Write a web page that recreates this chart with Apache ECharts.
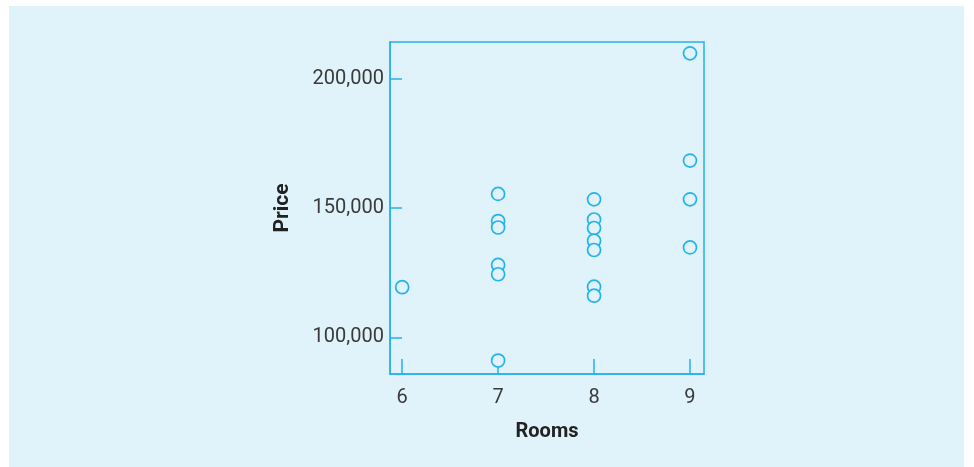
<!DOCTYPE html>
<html>
<head>
<meta charset="utf-8">
<script src="https://cdn.jsdelivr.net/npm/echarts@6/dist/echarts.min.js"></script>
<style>
html,body{margin:0;padding:0;background:#ffffff;}
#chart{width:974px;height:467px;}
</style>
</head>
<body>
<div id="chart"></div>
<script>
const rooms = [6, 7, 7, 7, 7, 7, 7, 8, 8, 8, 8, 8, 8, 8, 9, 9, 9, 9];
const prices = [119400, 155500, 145000, 142500, 128000, 124400, 91000,
                153400, 145600, 142300, 137400, 133800, 119600, 116100,
                209900, 168400, 153400, 134800];
const xTicks = [6, 7, 8, 9];
const yTicks = [100000, 150000, 200000];
const xName = 'Rooms';
const yName = 'Price';

const points = rooms.map((r, i) => [r, prices[i]]);
const blue = '#22b3ec';
const fontFam = 'Roboto, "DejaVu Sans", sans-serif';

const chart = echarts.init(document.getElementById('chart'), null, {renderer: 'canvas'});
chart.setOption({
  backgroundColor: '#ffffff',
  animation: false,
  graphic: [{
    type: 'rect', z: -10, silent: true,
    shape: {x: 9, y: 6, width: 955, height: 461},
    style: {fill: '#e0f2fa'}
  }],
  grid: {
    left: 390, right: 270, top: 42, bottom: 93,
    show: true, borderColor: blue, borderWidth: 1.5, backgroundColor: 'transparent'
  },
  xAxis: {
    type: 'value', min: 5.873, max: 9.146,
    name: xName, nameLocation: 'middle', nameGap: 48,
    nameTextStyle: {fontFamily: fontFam, fontWeight: 'bold', fontSize: 20, color: '#222'},
    axisLine: {show: true, lineStyle: {color: blue, width: 1.5}},
    axisTick: {show: true, inside: true, length: 15, customValues: xTicks, lineStyle: {color: blue, width: 1.5}},
    axisLabel: {customValues: xTicks, margin: 14, fontFamily: fontFam, fontSize: 20, color: '#3a3a3a'},
    splitLine: {show: false}
  },
  yAxis: {
    type: 'value', min: 85800, max: 214300,
    name: yName, nameLocation: 'middle', nameGap: 97,
    nameTextStyle: {fontFamily: fontFam, fontWeight: 'bold', fontSize: 21, color: '#222'},
    axisLine: {show: true, lineStyle: {color: blue, width: 1.5}},
    axisTick: {show: true, inside: true, length: 12, customValues: yTicks, lineStyle: {color: blue, width: 1.5}},
    axisLabel: {customValues: yTicks, margin: 6, fontFamily: fontFam, fontSize: 20, color: '#3a3a3a',
      formatter: v => v.toLocaleString('en-US')},
    splitLine: {show: false}
  },
  series: [{
    type: 'scatter',
    data: points,
    symbol: 'circle',
    symbolSize: 13,
    itemStyle: {color: '#e0f2fa', borderColor: blue, borderWidth: 1.7, opacity: 1}
  }]
});
</script>
</body>
</html>
